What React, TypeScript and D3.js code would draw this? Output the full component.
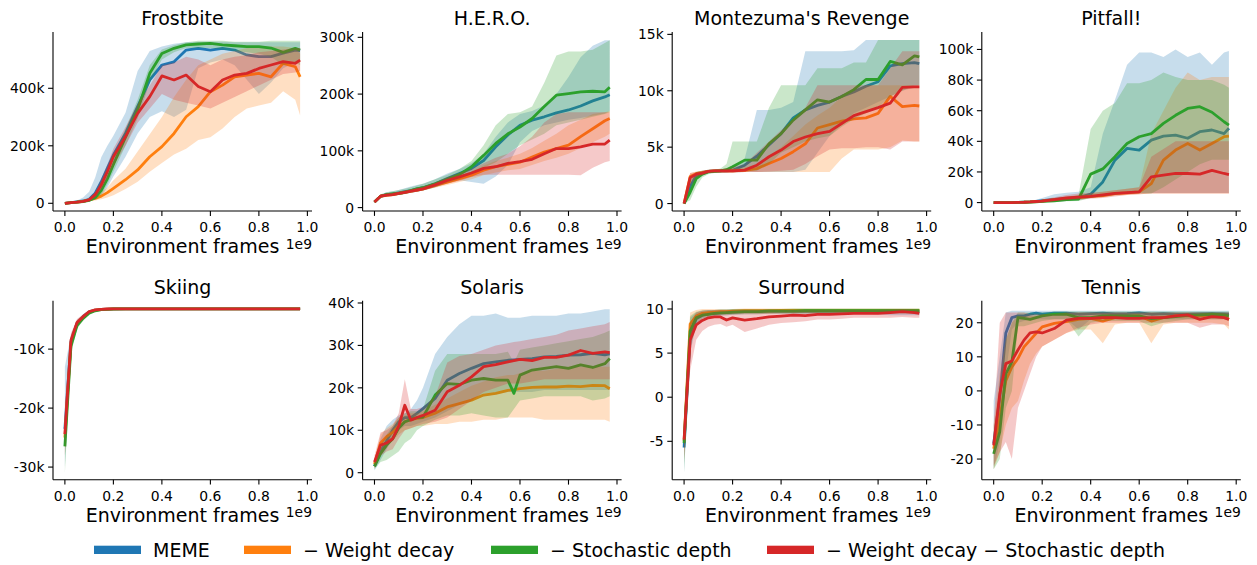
import * as d3 from 'd3'

// x positions (fraction of 1e9 environment frames)
const FRAMES = [0, 0.025, 0.05, 0.075, 0.1, 0.125, 0.15, 0.175, 0.2, 0.25, 0.3, 0.35, 0.4, 0.45, 0.5, 0.55, 0.6, 0.65, 0.7, 0.75, 0.8, 0.85, 0.9, 0.95, 0.97]
const SOLARIS_FRAMES = [0, 0.025, 0.05, 0.075, 0.1, 0.125, 0.15, 0.175, 0.2, 0.25, 0.3, 0.35, 0.4, 0.45, 0.5, 0.55, 0.575, 0.6, 0.65, 0.7, 0.75, 0.8, 0.85, 0.9, 0.95, 0.97]
const X_TICKS = [0, 0.2, 0.4, 0.6, 0.8, 1.0]

const SERIES = ['MEME', '\u2212 Weight decay', '\u2212 Stochastic depth', '\u2212 Weight decay \u2212 Stochastic depth']
const COLORS = ['#1f77b4', '#ff7f0e', '#2ca02c', '#d62728']

// Frostbite (k)
const frostbiteMeme = [0, 2, 5, 8, 14, 35, 75, 122, 168, 243, 336, 429, 481, 492, 533, 539, 533, 539, 533, 516, 510, 510, 522, 533, 531]
const frostbiteMemeLo = [0, 0, 2, 4, 8, 15, 23, 55, 93, 162, 243, 300, 320, 300, 325, 470, 490, 500, 480, 430, 380, 420, 470, 490, 495]
const frostbiteMemeHi = [2, 5, 10, 20, 40, 90, 160, 200, 235, 315, 460, 530, 545, 555, 560, 562, 562, 562, 560, 560, 560, 560, 560, 560, 560]
const frostbiteWd = [0, 2, 4, 7, 12, 17, 25, 37, 52, 82, 116, 162, 197, 243, 301, 336, 388, 411, 440, 446, 452, 440, 487, 475, 440]
const frostbiteWdLo = [0, 0, 2, 4, 8, 10, 14, 20, 28, 50, 75, 110, 140, 170, 190, 220, 230, 260, 300, 330, 340, 350, 390, 360, 305]
const frostbiteWdHi = [1, 4, 7, 11, 16, 25, 40, 55, 80, 120, 180, 240, 300, 370, 430, 480, 500, 520, 530, 540, 545, 545, 545, 540, 520]
const frostbiteSd = [0, 2, 4, 6, 10, 20, 45, 85, 135, 230, 325, 452, 521, 539, 551, 554, 556, 551, 548, 545, 545, 540, 525, 539, 533]
const frostbiteSdLo = [0, 0, 2, 3, 6, 12, 30, 65, 110, 200, 295, 420, 500, 525, 540, 540, 540, 535, 530, 525, 520, 510, 480, 490, 480]
const frostbiteSdHi = [1, 4, 6, 9, 14, 30, 60, 105, 160, 260, 360, 480, 535, 550, 560, 565, 565, 565, 562, 562, 562, 565, 565, 565, 565]
const frostbiteBoth = [0, 2, 4, 7, 12, 30, 64, 110, 162, 232, 313, 371, 443, 429, 446, 406, 388, 429, 446, 452, 469, 481, 493, 487, 498]
const frostbiteBothLo = [0, 0, 2, 4, 8, 20, 45, 85, 130, 200, 280, 330, 380, 360, 350, 340, 330, 350, 370, 390, 410, 430, 450, 455, 460]
const frostbiteBothHi = [1, 4, 6, 10, 18, 40, 85, 135, 190, 265, 345, 410, 480, 490, 510, 500, 480, 500, 510, 515, 525, 530, 535, 540, 540]

// H.E.R.O. (k)
const heroMeme = [10, 20, 23, 24, 26, 28, 30, 33, 35, 42, 51, 60, 69, 83, 107, 128, 145, 154, 160, 167, 172, 179, 188, 195, 199]
const heroMemeLo = [8, 17, 20, 21, 22, 24, 26, 28, 30, 36, 43, 48, 45, 42, 55, 75, 115, 135, 145, 150, 155, 158, 162, 166, 170]
const heroMemeHi = [12, 23, 27, 29, 31, 34, 37, 40, 42, 50, 60, 68, 78, 95, 125, 150, 165, 170, 180, 200, 230, 265, 285, 295, 295]
const heroWd = [10, 20, 22, 23, 25, 27, 29, 31, 33, 39, 45, 51, 57, 66, 72, 76, 80, 89, 98, 104, 110, 125, 139, 153, 157]
const heroWdLo = [8, 17, 19, 20, 22, 24, 26, 28, 30, 35, 40, 45, 50, 57, 62, 66, 68, 75, 82, 88, 95, 105, 115, 125, 130]
const heroWdHi = [12, 23, 25, 26, 28, 30, 32, 35, 37, 43, 50, 56, 63, 74, 82, 88, 95, 105, 118, 130, 145, 155, 165, 168, 170]
const heroSd = [10, 20, 23, 24, 25, 27, 30, 33, 35, 42, 50, 58, 72, 92, 113, 130, 142, 157, 178, 198, 201, 204, 205, 204, 212]
const heroSdLo = [8, 17, 20, 21, 22, 24, 26, 28, 30, 36, 44, 50, 60, 70, 80, 95, 110, 120, 130, 145, 150, 155, 160, 165, 168]
const heroSdHi = [12, 23, 27, 29, 31, 33, 36, 39, 42, 50, 58, 68, 82, 110, 145, 165, 168, 178, 220, 268, 275, 275, 278, 290, 295]
const heroBoth = [10, 20, 22, 23, 25, 27, 29, 31, 33, 40, 48, 54, 61, 69, 72, 78, 81, 85, 95, 104, 104, 107, 112, 112, 119]
const heroBothLo = [8, 17, 19, 20, 22, 24, 26, 28, 30, 36, 42, 47, 54, 58, 58, 58, 58, 58, 58, 58, 58, 57, 70, 80, 82]
const heroBothHi = [12, 23, 25, 26, 28, 30, 32, 35, 37, 44, 54, 61, 68, 78, 88, 95, 108, 125, 150, 165, 168, 168, 168, 168, 168]

// Montezuma's Revenge (k)
const montezumaMeme = [0, 1.5, 2.5, 2.7, 2.85, 2.9, 2.9, 2.9, 2.95, 3.4, 4.2, 5.2, 6.2, 7.6, 8.3, 8.7, 9.0, 9.5, 9.9, 10.4, 10.8, 12.2, 12.4, 12.5, 12.4]
const montezumaMemeLo = [0, 0.8, 2.2, 2.5, 2.7, 2.75, 2.75, 2.75, 2.75, 2.8, 2.8, 2.8, 2.8, 2.8, 3.0, 4.5, 6.0, 7.0, 8.0, 8.5, 9.0, 9.5, 10.0, 10.3, 10.5]
const montezumaMemeHi = [0.3, 2.4, 2.8, 2.9, 3.0, 3.0, 3.0, 3.0, 3.1, 4.0, 8.3, 8.3, 8.5, 9.0, 13.5, 13.5, 13.5, 13.5, 13.6, 14.5, 14.5, 14.5, 14.5, 14.5, 14.5]
const montezumaWd = [0, 2.4, 2.65, 2.75, 2.85, 2.9, 2.9, 2.9, 2.9, 2.95, 3.1, 3.55, 4.0, 4.6, 5.3, 6.7, 7.0, 7.3, 7.5, 7.6, 8.0, 9.5, 8.6, 8.7, 8.65]
const montezumaWdLo = [0, 1.8, 2.4, 2.55, 2.7, 2.75, 2.75, 2.75, 2.75, 2.8, 2.8, 2.8, 2.8, 2.8, 2.8, 2.8, 2.8, 4.0, 4.8, 4.8, 4.8, 5.0, 5.6, 5.5, 5.5]
const montezumaWdHi = [0.3, 2.7, 2.85, 2.9, 3.0, 3.0, 3.05, 3.1, 3.1, 3.2, 3.5, 4.2, 5.0, 6.0, 7.0, 7.8, 8.5, 9.5, 10.0, 10.5, 10.5, 10.5, 10.5, 10.5, 10.5]
const montezumaSd = [0, 1.0, 2.2, 2.6, 2.8, 2.85, 2.9, 3.0, 3.26, 3.85, 3.85, 5.3, 6.2, 7.4, 8.3, 9.2, 9.0, 9.5, 10.1, 11.0, 11.0, 12.6, 12.3, 13.1, 13.0]
const montezumaSdLo = [0, 0.3, 1.5, 2.3, 2.6, 2.7, 2.75, 2.8, 2.8, 2.9, 2.9, 3.5, 4.5, 5.0, 5.5, 5.8, 6.0, 6.8, 7.5, 8.0, 8.5, 9.5, 10.0, 10.5, 10.5]
const montezumaSdHi = [0.3, 2.0, 2.8, 2.9, 3.0, 3.0, 3.1, 3.5, 5.5, 5.5, 5.5, 8.5, 10.5, 10.5, 10.5, 12.0, 12.0, 12.0, 12.5, 12.5, 14.5, 14.5, 14.5, 14.5, 14.5]
const montezumaBoth = [0, 2.3, 2.6, 2.7, 2.85, 2.9, 2.9, 2.9, 2.9, 2.96, 3.4, 4.15, 4.74, 5.5, 5.9, 6.2, 6.4, 7.1, 7.8, 8.15, 8.5, 8.9, 10.3, 10.35, 10.35]
const montezumaBothLo = [0, 1.5, 2.3, 2.5, 2.7, 2.75, 2.75, 2.75, 2.75, 2.8, 2.8, 2.85, 2.9, 3.0, 3.5, 4.2, 4.8, 4.9, 4.9, 5.0, 5.0, 4.8, 5.5, 5.5, 5.5]
const montezumaBothHi = [0.3, 2.7, 2.8, 2.9, 3.0, 3.0, 3.05, 3.1, 3.2, 3.5, 4.5, 5.5, 6.5, 7.5, 8.5, 10.5, 10.5, 10.5, 10.5, 10.5, 10.5, 12.0, 13.5, 13.5, 13.5]

// Pitfall! (k)
const pitfallMeme = [0, 0, 0, 0, 0.1, 0.3, 0.5, 0.8, 1.2, 2.0, 2.8, 3.2, 5.5, 13.5, 27.7, 35.4, 34.3, 40.8, 43.4, 44, 42, 46.3, 47.4, 45, 48.5]
const pitfallMemeLo = [0, 0, 0, 0, 0, 0, 0, 0, 0.2, 0.5, 1.0, 1.5, 3.0, 4.5, 6.0, 6.3, 6.3, 6.3, 6.3, 6.3, 6.3, 6.3, 6.3, 6.3, 6.3]
const pitfallMemeHi = [0, 0, 0.1, 0.2, 0.5, 0.8, 1.2, 1.8, 3.0, 5.5, 6.5, 7.0, 10, 45, 67, 90, 98, 98, 95, 100, 95, 98, 90, 98, 99]
const pitfallWd = [0, 0, 0, 0, 0.1, 0.2, 0.4, 0.7, 1.0, 1.8, 2.5, 3.2, 4.0, 4.6, 5.8, 6.3, 7.0, 12.4, 27.7, 34.3, 38.6, 34.3, 38.6, 43, 43.4]
const pitfallWdLo = [0, 0, 0, 0, 0, 0, 0.1, 0.2, 0.4, 0.8, 1.2, 2.0, 3.0, 3.5, 4.5, 5.0, 5.5, 6.0, 6.0, 6.0, 6.0, 6.0, 6.0, 6.0, 6.0]
const pitfallWdHi = [0, 0, 0.1, 0.2, 0.3, 0.5, 0.8, 1.2, 1.8, 3.0, 4.0, 5.0, 6.0, 7.0, 8.0, 9.0, 10, 45, 60, 75, 85, 80, 82, 82, 82]
const pitfallSd = [0, 0, 0, 0, 0.1, 0.2, 0.3, 0.5, 0.8, 1.2, 2.0, 2.2, 18.6, 22, 30, 38.6, 43, 45, 51.7, 57, 61.5, 62.6, 59, 52.8, 50.6]
const pitfallSdLo = [0, 0, 0, 0, 0, 0, 0, 0, 0, 0.3, 0.8, 1.0, 3.0, 4.0, 5.0, 6.0, 6.0, 6.0, 10, 15, 20, 25, 28, 28, 28]
const pitfallSdHi = [0, 0, 0, 0, 0.3, 0.5, 0.8, 1.2, 1.8, 2.5, 3.5, 5, 48, 60, 65, 78, 78, 80, 85, 82, 80, 80, 80, 77, 75]
const pitfallBoth = [0, 0, 0, 0, 0.1, 0.2, 0.4, 0.7, 1.0, 2.0, 3.0, 3.5, 4.0, 5.0, 6.0, 6.5, 7.0, 16.8, 17.9, 19, 19, 18.6, 21, 19, 18.3]
const pitfallBothLo = [0, 0, 0, 0, 0, 0, 0.1, 0.2, 0.4, 0.8, 1.5, 2.0, 2.5, 3.0, 4.0, 5.0, 5.5, 6.0, 6.0, 6.0, 6.0, 6.0, 6.0, 6.0, 6.0]
const pitfallBothHi = [0, 0, 0.1, 0.2, 0.3, 0.5, 0.8, 1.2, 2.0, 3.5, 5.0, 6.0, 6.5, 7.0, 8.0, 9.0, 10, 30, 35, 40, 40, 40, 40, 40, 40]

// Skiing (k)
const skiingMeme = [-23.5, -8.8, -5.6, -4.5, -3.7, -3.4, -3.27, -3.22, -3.18, -3.17, -3.17, -3.17, -3.17, -3.17, -3.17, -3.17, -3.17, -3.17, -3.17, -3.17, -3.17, -3.17, -3.17, -3.17, -3.17]
const skiingMemeLo = [-30, -10, -6.2, -4.9, -3.9, -3.55, -3.35, -3.27, -3.22, -3.2, -3.2, -3.2, -3.2, -3.2, -3.2, -3.2, -3.2, -3.2, -3.2, -3.2, -3.2, -3.2, -3.2, -3.2, -3.2]
const skiingMemeHi = [-13, -7.5, -5.0, -4.1, -3.5, -3.3, -3.2, -3.17, -3.14, -3.14, -3.14, -3.14, -3.14, -3.14, -3.14, -3.14, -3.14, -3.14, -3.14, -3.14, -3.14, -3.14, -3.14, -3.14, -3.14]
const skiingWd = [-25, -9.0, -5.7, -4.6, -3.75, -3.4, -3.28, -3.22, -3.18, -3.17, -3.17, -3.17, -3.17, -3.17, -3.17, -3.17, -3.17, -3.17, -3.17, -3.17, -3.17, -3.17, -3.17, -3.17, -3.17]
const skiingWdLo = [-28, -10.2, -6.3, -5.0, -3.95, -3.55, -3.36, -3.27, -3.22, -3.2, -3.2, -3.2, -3.2, -3.2, -3.2, -3.2, -3.2, -3.2, -3.2, -3.2, -3.2, -3.2, -3.2, -3.2, -3.2]
const skiingWdHi = [-20, -7.8, -5.1, -4.2, -3.55, -3.3, -3.2, -3.17, -3.14, -3.14, -3.14, -3.14, -3.14, -3.14, -3.14, -3.14, -3.14, -3.14, -3.14, -3.14, -3.14, -3.14, -3.14, -3.14, -3.14]
const skiingSd = [-26.5, -9.5, -6.0, -4.8, -3.9, -3.5, -3.3, -3.25, -3.2, -3.17, -3.17, -3.17, -3.17, -3.17, -3.17, -3.17, -3.17, -3.17, -3.17, -3.17, -3.17, -3.17, -3.17, -3.17, -3.17]
const skiingSdLo = [-31, -10.8, -6.6, -5.2, -4.1, -3.65, -3.4, -3.3, -3.23, -3.2, -3.2, -3.2, -3.2, -3.2, -3.2, -3.2, -3.2, -3.2, -3.2, -3.2, -3.2, -3.2, -3.2, -3.2, -3.2]
const skiingSdHi = [-22, -8.2, -5.4, -4.4, -3.7, -3.35, -3.22, -3.2, -3.16, -3.14, -3.14, -3.14, -3.14, -3.14, -3.14, -3.14, -3.14, -3.14, -3.14, -3.14, -3.14, -3.14, -3.14, -3.14, -3.14]
const skiingBoth = [-24.4, -8.5, -5.5, -4.5, -3.65, -3.35, -3.25, -3.2, -3.18, -3.17, -3.17, -3.17, -3.17, -3.17, -3.17, -3.17, -3.17, -3.17, -3.17, -3.17, -3.17, -3.17, -3.17, -3.17, -3.17]
const skiingBothLo = [-28, -9.7, -6.1, -4.9, -3.85, -3.5, -3.33, -3.25, -3.21, -3.2, -3.2, -3.2, -3.2, -3.2, -3.2, -3.2, -3.2, -3.2, -3.2, -3.2, -3.2, -3.2, -3.2, -3.2, -3.2]
const skiingBothHi = [-19, -7.3, -4.9, -4.1, -3.45, -3.25, -3.18, -3.15, -3.14, -3.14, -3.14, -3.14, -3.14, -3.14, -3.14, -3.14, -3.14, -3.14, -3.14, -3.14, -3.14, -3.14, -3.14, -3.14, -3.14]

// Solaris (k), on SOLARIS_FRAMES
const solarisMeme = [1.5, 5.0, 7.5, 10.0, 12.0, 13.0, 13.0, 14.0, 15.1, 17.5, 21.8, 23.4, 24.6, 25.7, 26.1, 26.5, 26.6, 26.7, 26.9, 27.3, 27.4, 27.7, 27.8, 28.1, 27.8, 28.0]
const solarisMemeLo = [0.5, 3.0, 5.5, 8.0, 10.0, 11.0, 11.0, 11.5, 12.0, 13.0, 14.5, 16.0, 17.0, 18.0, 18.5, 19.0, 19.0, 19.0, 19.0, 19.5, 19.5, 19.5, 19.5, 19.5, 19.5, 19.5]
const solarisMemeHi = [3.0, 8.0, 11.0, 12.5, 13.5, 14.0, 15.0, 17.0, 20.0, 28.0, 32.0, 35.0, 37.0, 37.0, 37.5, 36.5, 36.5, 36.5, 37.0, 37.0, 37.0, 37.5, 37.5, 38.0, 38.5, 38.5]
const solarisWd = [2.0, 7.0, 8.5, 9.5, 11.0, 12.0, 12.5, 12.8, 13.0, 14.0, 15.5, 16.3, 17.1, 18.3, 18.7, 19.4, 19.6, 19.8, 20.1, 20.2, 20.2, 20.4, 20.3, 20.6, 20.5, 19.8]
const solarisWdLo = [1.0, 5.0, 6.5, 7.5, 9.0, 10.0, 10.5, 11.0, 11.0, 11.5, 11.5, 12.0, 12.0, 12.5, 12.5, 13.0, 13.0, 13.0, 13.0, 12.5, 12.5, 12.5, 12.5, 12.5, 12.5, 12.0]
const solarisWdHi = [3.0, 9.0, 10.5, 11.5, 13.0, 13.5, 14.0, 14.0, 14.5, 16.0, 17.5, 19.0, 20.5, 21.5, 22.5, 23.0, 23.0, 23.5, 24.0, 24.0, 24.5, 25.0, 25.0, 25.0, 25.0, 25.0]
const solarisSd = [1.5, 4.5, 6.5, 8.0, 10.5, 12.0, 12.5, 13.0, 13.1, 18.3, 21.0, 20.8, 21.8, 22.2, 21.8, 21.8, 18.7, 23.0, 24.2, 24.6, 25.0, 24.6, 25.4, 24.8, 25.7, 26.9]
const solarisSdLo = [0.8, 2.5, 3.0, 4.0, 5.0, 7.0, 8.0, 10.0, 11.0, 12.5, 13.5, 13.5, 14.0, 13.5, 13.0, 13.0, 15.0, 17.0, 17.5, 18.0, 18.0, 18.0, 18.0, 17.0, 17.5, 18.0]
const solarisSdHi = [2.5, 6.5, 9.0, 11.0, 13.0, 14.0, 14.5, 14.5, 15.0, 24.0, 28.0, 28.0, 28.0, 28.0, 28.0, 28.5, 26.0, 29.0, 29.5, 30.0, 30.5, 31.0, 31.5, 32.0, 33.0, 33.5]
const solarisBoth = [2.5, 6.5, 7.0, 8.0, 11.0, 15.9, 12.4, 13.0, 13.5, 14.7, 19.1, 20.6, 22.6, 25.0, 25.5, 26.1, 26.4, 26.7, 26.4, 27.2, 27.2, 27.7, 28.8, 28.1, 28.5, 28.3]
const solarisBothLo = [1.0, 4.0, 5.0, 5.5, 8.0, 10.0, 10.5, 11.0, 11.5, 12.0, 13.0, 15.0, 17.0, 19.0, 20.0, 21.0, 21.0, 21.0, 21.5, 22.0, 22.0, 22.0, 22.0, 22.0, 22.0, 22.0]
const solarisBothHi = [4.0, 9.5, 10.0, 11.0, 14.0, 22.0, 15.0, 15.0, 15.5, 18.0, 26.0, 27.5, 28.0, 29.0, 30.0, 30.5, 30.8, 31.0, 31.5, 32.0, 32.5, 33.5, 34.0, 34.5, 35.0, 35.5]

// Surround
const surroundMeme = [-5.7, 7.0, 8.9, 9.3, 9.45, 9.5, 9.55, 9.6, 9.65, 9.7, 9.7, 9.75, 9.75, 9.75, 9.75, 9.75, 9.75, 9.75, 9.75, 9.75, 9.75, 9.75, 9.7, 9.7, 9.7]
const surroundMemeLo = [-8.5, 5.0, 8.2, 8.9, 9.1, 9.2, 9.25, 9.3, 9.35, 9.4, 9.4, 9.45, 9.45, 9.45, 9.45, 9.45, 9.45, 9.45, 9.45, 9.45, 9.4, 9.3, 9.3, 9.3, 9.3]
const surroundMemeHi = [-3.0, 9.0, 9.6, 9.8, 9.9, 9.9, 9.95, 9.95, 10.0, 10.0, 10.0, 10.0, 10.0, 10.0, 10.0, 10.0, 10.0, 10.0, 10.0, 10.0, 10.0, 10.0, 10.0, 10.0, 10.0]
const surroundWd = [-5.0, 8.3, 9.2, 9.5, 9.6, 9.65, 9.7, 9.7, 9.75, 9.8, 9.8, 9.8, 9.85, 9.85, 9.85, 9.85, 9.85, 9.85, 9.85, 9.85, 9.85, 9.85, 9.85, 9.85, 9.85]
const surroundWdLo = [-7.5, 6.5, 8.7, 9.1, 9.3, 9.35, 9.4, 9.4, 9.45, 9.5, 9.5, 9.5, 9.55, 9.55, 9.55, 9.55, 9.55, 9.55, 9.55, 9.55, 9.55, 9.55, 9.55, 9.55, 9.55]
const surroundWdHi = [-2.5, 9.6, 9.9, 10.0, 10.0, 10.0, 10.0, 10.0, 10.0, 10.05, 10.05, 10.05, 10.05, 10.05, 10.05, 10.05, 10.05, 10.05, 10.05, 10.05, 10.05, 10.05, 10.05, 10.05, 10.05]
const surroundSd = [-5.2, 7.5, 9.0, 9.3, 9.4, 9.5, 9.55, 9.6, 9.65, 9.7, 9.7, 9.75, 9.75, 9.75, 9.8, 9.8, 9.8, 9.8, 9.8, 9.8, 9.8, 9.8, 9.8, 9.8, 9.8]
const surroundSdLo = [-8.5, 5.5, 8.3, 8.9, 9.1, 9.2, 9.25, 9.3, 9.35, 9.4, 9.4, 9.45, 9.45, 9.45, 9.5, 9.5, 9.5, 9.5, 9.5, 9.5, 9.5, 9.5, 9.5, 9.5, 9.5]
const surroundSdHi = [-2.5, 9.2, 9.7, 9.85, 9.9, 9.9, 9.95, 9.95, 10.0, 10.0, 10.0, 10.0, 10.0, 10.05, 10.05, 10.05, 10.05, 10.05, 10.05, 10.05, 10.05, 10.05, 10.05, 10.05, 10.05]
const surroundBoth = [-4.8, 6.5, 8.2, 8.7, 9.0, 9.1, 9.1, 8.75, 9.0, 8.75, 8.9, 9.1, 9.2, 9.3, 9.25, 9.4, 9.4, 9.45, 9.5, 9.5, 9.5, 9.6, 9.7, 9.6, 9.5]
const surroundBothLo = [-7.0, 3.0, 6.5, 7.5, 8.0, 8.2, 8.3, 8.0, 8.2, 7.4, 7.8, 8.2, 8.4, 8.5, 8.6, 8.8, 8.8, 8.9, 9.0, 9.0, 9.0, 9.0, 9.1, 9.0, 9.0]
const surroundBothHi = [-2.5, 8.5, 9.6, 9.8, 9.85, 9.9, 9.9, 9.9, 9.9, 9.9, 9.9, 9.9, 9.9, 9.9, 9.9, 9.9, 9.9, 9.9, 9.9, 9.9, 9.9, 9.95, 10.0, 9.95, 9.9]

// Tennis
const tennisMeme = [-15.5, -2, 17, 21.5, 22, 22, 22.5, 22.8, 22.5, 22.8, 22.8, 22.5, 22.7, 22.8, 22.6, 22.7, 22.9, 22.5, 22.7, 22.5, 22.5, 22.6, 22.7, 22.6, 22.5]
const tennisMemeLo = [-23, -15, 5, 18, 20, 20.5, 21, 21, 21, 21, 21, 18, 21, 21, 21, 21, 21, 21, 21, 21, 21, 21, 21, 21, 21]
const tennisMemeHi = [-3, 10, 23, 23.5, 23.5, 23.5, 23.5, 23.5, 23.5, 23.5, 23.5, 23.5, 23.5, 23.5, 23.5, 23.5, 23.5, 23.5, 23.5, 23.5, 23.5, 23.5, 23.5, 23.5, 23.5]
const tennisWd = [-17, -8, 3, 7, 9.5, 12.9, 14.9, 16.9, 18.8, 19.8, 20.3, 21, 21.3, 20.5, 21.5, 21.8, 22, 20.5, 21.5, 22, 22, 22, 22.3, 22, 21]
const tennisWdLo = [-23, -18, -10, -5, -3, 3, 8, 11, 13, 15, 17, 18, 18, 14, 19.5, 20, 20, 14, 19.5, 20, 20, 20, 20, 19.5, 18]
const tennisWdHi = [-10, 5, 15, 20, 22, 22, 22, 22, 22, 22.5, 23, 23, 23, 23, 23, 23, 23, 23, 23, 23, 23, 23, 23, 23, 23]
const tennisSd = [-18.5, -12, 5, 8.5, 21.5, 21.3, 21, 21.5, 22, 22.5, 22.5, 21.5, 21.5, 22, 22, 22, 22, 21.2, 21.5, 21.8, 22.2, 22.3, 22.5, 22.3, 22]
const tennisSdLo = [-23, -20, -5, 0, 19, 19, 19.5, 20, 20.5, 21, 21, 16, 20, 20.5, 20.5, 20.5, 20.5, 19, 20, 20.5, 21, 21, 21, 21, 20.5]
const tennisSdHi = [-12, 0, 15, 20, 23, 23, 23, 23, 23, 23.3, 23.3, 23.3, 23.3, 23.3, 23.3, 23.3, 23.3, 23.3, 23.3, 23.3, 23.3, 23.3, 23.3, 23.3, 23.3]
const tennisBoth = [-16, -1, 8, 8.8, 12, 14.9, 17, 17.3, 17, 18.3, 20.8, 21.3, 21.3, 21.5, 21.5, 21.3, 21.3, 21.5, 21.5, 22, 22.3, 21, 21.8, 21.5, 21]
const tennisBothLo = [-22, -18, -15, -20, -5, 0, 5, 10, 13, 15, 17, 18.5, 19.5, 20, 20, 20, 20, 20, 20, 20, 20, 18.5, 19.5, 19.5, 19]
const tennisBothHi = [-10, 20, 23, 23, 23, 23, 22.5, 22.5, 22.5, 22.5, 23, 23, 23, 23, 23, 23, 23, 23, 23, 23, 23, 23, 23, 23, 23]

type Panel = {
  title: string
  frames: number[]
  yDomain: [number, number]
  yTicks: number[]
  suffix: string
  mean: number[][]
  lo: number[][]
  hi: number[][]
}

const panels: Panel[] = [
  { title: 'Frostbite', frames: FRAMES, yDomain: [-26.8, 595.8], yTicks: [0, 200, 400], suffix: 'k',
    mean: [frostbiteMeme, frostbiteWd, frostbiteSd, frostbiteBoth],
    lo: [frostbiteMemeLo, frostbiteWdLo, frostbiteSdLo, frostbiteBothLo],
    hi: [frostbiteMemeHi, frostbiteWdHi, frostbiteSdHi, frostbiteBothHi] },
  { title: 'H.E.R.O.', frames: FRAMES, yDomain: [-6, 309.4], yTicks: [0, 100, 200, 300], suffix: 'k',
    mean: [heroMeme, heroWd, heroSd, heroBoth],
    lo: [heroMemeLo, heroWdLo, heroSdLo, heroBothLo],
    hi: [heroMemeHi, heroWdHi, heroSdHi, heroBothHi] },
  { title: "Montezuma's Revenge", frames: FRAMES, yDomain: [-0.66, 15.21], yTicks: [0, 5, 10, 15], suffix: 'k',
    mean: [montezumaMeme, montezumaWd, montezumaSd, montezumaBoth],
    lo: [montezumaMemeLo, montezumaWdLo, montezumaSdLo, montezumaBothLo],
    hi: [montezumaMemeHi, montezumaWdHi, montezumaSdHi, montezumaBothHi] },
  { title: 'Pitfall!', frames: FRAMES, yDomain: [-5.5, 111.4], yTicks: [0, 20, 40, 60, 80, 100], suffix: 'k',
    mean: [pitfallMeme, pitfallWd, pitfallSd, pitfallBoth],
    lo: [pitfallMemeLo, pitfallWdLo, pitfallSdLo, pitfallBothLo],
    hi: [pitfallMemeHi, pitfallWdHi, pitfallSdHi, pitfallBothHi] },
  { title: 'Skiing', frames: FRAMES, yDomain: [-32.14, -1.79], yTicks: [-30, -20, -10], suffix: 'k',
    mean: [skiingMeme, skiingWd, skiingSd, skiingBoth],
    lo: [skiingMemeLo, skiingWdLo, skiingSdLo, skiingBothLo],
    hi: [skiingMemeHi, skiingWdHi, skiingSdHi, skiingBothHi] },
  { title: 'Solaris', frames: SOLARIS_FRAMES, yDomain: [-1.65, 40.54], yTicks: [0, 10, 20, 30, 40], suffix: 'k',
    mean: [solarisMeme, solarisWd, solarisSd, solarisBoth],
    lo: [solarisMemeLo, solarisWdLo, solarisSdLo, solarisBothLo],
    hi: [solarisMemeHi, solarisWdHi, solarisSdHi, solarisBothHi] },
  { title: 'Surround', frames: FRAMES, yDomain: [-9.35, 10.94], yTicks: [-5, 0, 5, 10], suffix: '',
    mean: [surroundMeme, surroundWd, surroundSd, surroundBoth],
    lo: [surroundMemeLo, surroundWdLo, surroundSdLo, surroundBothLo],
    hi: [surroundMemeHi, surroundWdHi, surroundSdHi, surroundBothHi] },
  { title: 'Tennis', frames: FRAMES, yDomain: [-26.06, 26.47], yTicks: [-20, -10, 0, 10, 20], suffix: '',
    mean: [tennisMeme, tennisWd, tennisSd, tennisBoth],
    lo: [tennisMemeLo, tennisWdLo, tennisSdLo, tennisBothLo],
    hi: [tennisMemeHi, tennisWdHi, tennisSdHi, tennisBothHi] },
]

const W = 1257
const H = 565
const AX_LEFT0 = 53
const AX_STEP = 309.6
const AX_W = 259
const AX_H = 179
const ROW_TOP = [32, 300.7]
const X_DOMAIN = [-0.049, 1.019]
const FONT = "'DejaVu Sans', sans-serif"
const TICK_FS = 13.9
const LABEL_FS = 19
const LEGEND_X = [94, 244, 491, 767]

function PanelView({ p, index }: { p: Panel; index: number }) {
  const col = index % 4
  const row = Math.floor(index / 4)
  const left = AX_LEFT0 + col * AX_STEP
  const top = ROW_TOP[row]

  const x = d3.scaleLinear().domain(X_DOMAIN).range([0, AX_W])
  const y = d3.scaleLinear().domain(p.yDomain).range([AX_H, 0])
  const idx = p.frames.map((_, i) => i)

  const fmtY = (v: number) => (v === 0 ? '0' : `${v}${p.suffix}`)

  return (
    <g transform={`translate(${left},${top})`}>
      {p.mean.map((m, s) => {
        const area = d3.area<number>()
          .x(i => x(p.frames[i]))
          .y0(i => y(p.lo[s][i]))
          .y1(i => y(p.hi[s][i]))
        const line = d3.line<number>()
          .x(i => x(p.frames[i]))
          .y(i => y(m[i]))
        return (
          <g key={s}>
            <path d={area(idx) ?? ''} fill={COLORS[s]} fillOpacity={0.25} stroke="none" />
            <path d={line(idx) ?? ''} fill="none" stroke={COLORS[s]} strokeWidth={2.8} strokeLinejoin="round" />
          </g>
        )
      })}

      <line x1={0} x2={0} y1={0} y2={AX_H} stroke="#000" strokeWidth={1.1} />
      <line x1={0} x2={AX_W} y1={AX_H} y2={AX_H} stroke="#000" strokeWidth={1.1} />

      {X_TICKS.map(t => (
        <g key={t} transform={`translate(${x(t)},${AX_H})`}>
          <line y1={0} y2={4.9} stroke="#000" strokeWidth={1.1} />
          <text y={21} textAnchor="middle" fontSize={TICK_FS} fontFamily={FONT} fill="#000">{d3.format('.1f')(t)}</text>
        </g>
      ))}
      {p.yTicks.map(t => (
        <g key={t} transform={`translate(0,${y(t)})`}>
          <line x1={-4.9} x2={0} stroke="#000" strokeWidth={1.1} />
          <text x={-8.5} y={5} textAnchor="end" fontSize={TICK_FS} fontFamily={FONT} fill="#000">{fmtY(t)}</text>
        </g>
      ))}

      <text x={AX_W / 2} y={-7} textAnchor="middle" fontSize={LABEL_FS} fontFamily={FONT} fill="#000">{p.title}</text>
      <text x={AX_W / 2} y={AX_H + 42} textAnchor="middle" fontSize={LABEL_FS} fontFamily={FONT} fill="#000">Environment frames</text>
      <text x={AX_W} y={AX_H + 37.5} textAnchor="end" fontSize={TICK_FS} fontFamily={FONT} fill="#000">1e9</text>
    </g>
  )
}

export default function App() {
  return (
    <svg width={W} height={H} viewBox={`0 0 ${W} ${H}`}
      style={{ position: 'absolute', left: 0, top: 0, background: '#fff' }}>
      <rect width={W} height={H} fill="#fff" />
      {panels.map((p, i) => <PanelView key={p.title} p={p} index={i} />)}
      {SERIES.map((name, i) => (
        <g key={name}>
          <rect x={LEGEND_X[i]} y={545.7} width={47} height={8.3} fill={COLORS[i]} />
          <text x={LEGEND_X[i] + 59} y={557} fontSize={LABEL_FS} fontFamily={FONT} fill="#000">{name}</text>
        </g>
      ))}
    </svg>
  )
}
